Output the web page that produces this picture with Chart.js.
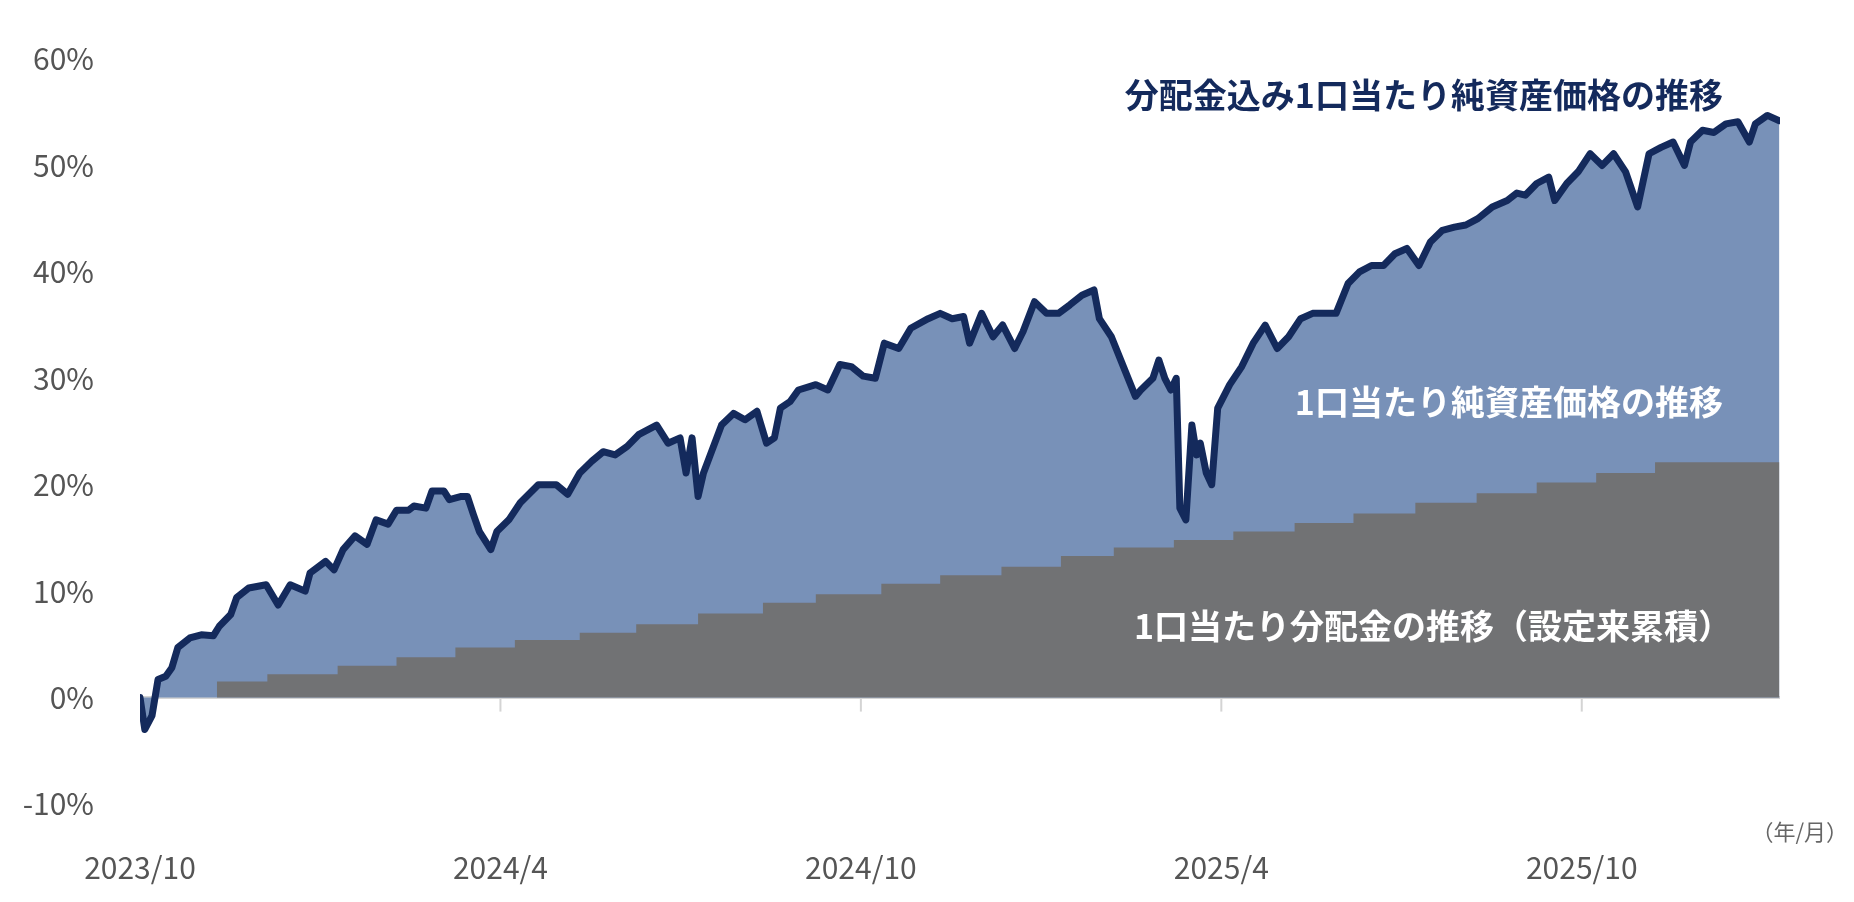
<!DOCTYPE html>
<html><head><meta charset="utf-8">
<script src="https://cdn.jsdelivr.net/npm/chart.js@4"></script>
<style>html,body{margin:0;padding:0;background:#fff}#w{width:1854px;height:902px}</style>
</head><body><div id="w"><canvas id="c"></canvas></div>
<script>
// months since 2023/10 launch
const navMonths=[0,0.08,0.2,0.3,0.43,0.53,0.63,0.83,1.02,1.22,1.32,1.51,1.61,1.81,2.1,2.3,2.5,2.75,2.83,3.09,3.23,3.38,3.58,3.78,3.93,4.13,4.27,4.47,4.56,4.76,4.86,5.06,5.15,5.35,5.45,5.55,5.65,5.84,5.94,6.14,6.33,6.63,6.93,7.12,7.32,7.52,7.71,7.91,8.11,8.3,8.6,8.79,8.99,9.09,9.19,9.29,9.38,9.68,9.88,10.07,10.27,10.43,10.56,10.66,10.82,10.96,11.25,11.45,11.65,11.84,12.04,12.24,12.39,12.63,12.83,13.12,13.32,13.52,13.71,13.81,14.01,14.2,14.36,14.56,14.7,14.89,15.09,15.29,15.48,15.68,15.88,15.97,16.17,16.37,16.57,16.66,16.86,16.96,17.06,17.16,17.25,17.31,17.41,17.51,17.59,17.65,17.75,17.84,17.94,18.14,18.34,18.53,18.73,18.93,19.12,19.32,19.52,19.71,19.91,20.11,20.3,20.5,20.7,20.89,21.09,21.29,21.48,21.68,21.88,22.07,22.27,22.51,22.76,22.92,23.06,23.25,23.45,23.55,23.75,23.94,24.14,24.34,24.53,24.73,24.93,25.12,25.32,25.52,25.71,25.81,26.01,26.2,26.4,26.6,26.79,26.89,27.09,27.29];
const navWithDist=[0,-3.0,-1.7,1.7,2.0,2.8,4.7,5.6,5.9,5.8,6.7,7.8,9.4,10.3,10.6,8.7,10.6,10.0,11.7,12.8,12.0,13.9,15.2,14.4,16.7,16.3,17.6,17.6,18.0,17.8,19.4,19.4,18.6,18.9,18.9,17.2,15.6,13.9,15.6,16.7,18.3,20.0,20.0,19.1,21.1,22.2,23.1,22.8,23.6,24.7,25.6,23.9,24.4,21.1,24.4,18.9,21.1,25.6,26.7,26.1,26.9,23.9,24.4,27.2,27.8,28.9,29.4,28.9,31.3,31.1,30.2,30.0,33.3,32.8,34.7,35.6,36.1,35.6,35.8,33.3,36.1,33.9,35.0,32.8,34.4,37.2,36.1,36.1,36.9,37.8,38.3,35.6,33.9,31.1,28.3,28.9,30.0,31.7,30.0,28.9,30.0,17.8,16.7,25.6,22.8,23.9,21.1,20.0,27.2,29.4,31.1,33.3,35.0,32.8,33.9,35.6,36.1,36.1,36.1,38.9,40.0,40.6,40.6,41.7,42.2,40.6,42.8,43.9,44.2,44.4,45.0,46.1,46.7,47.4,47.2,48.3,48.9,46.7,48.3,49.4,51.1,50.0,51.1,49.4,46.1,51.1,51.7,52.2,50.0,52.2,53.3,53.1,53.9,54.1,52.2,53.9,54.7,54.2];
const distMonths=[1.28,2.12,3.29,4.27,5.25,6.24,7.32,8.26,9.29,10.37,11.25,12.34,13.32,14.34,15.33,16.21,17.21,18.2,19.22,20.2,21.23,22.25,23.25,24.24,25.22,26.26,27.29];
const distCum=[0.8,1.5,2.2,3.0,3.8,4.7,5.4,6.1,6.9,7.9,8.9,9.7,10.7,11.5,12.3,13.3,14.1,14.8,15.6,16.4,17.3,18.3,19.2,20.2,21.1,22.1,22.1];
const tickMonths=[0,6,12,18,24];
const tickLabels=['2023/10','2024/4','2024/10','2025/4','2025/10'];
const yTicks=[-10,0,10,20,30,40,50,60];
const labelNavDist='分配金込み1口当たり純資産価格の推移';
const labelNav='1口当たり純資産価格の推移';
const labelDist='1口当たり分配金の推移（設定来累積）';
const unitLabel='（年/月）';

const nav=navMonths.map((m,i)=>({x:m,y:navWithDist[i]}));
const dist=distMonths.map((m,i)=>({x:m,y:distCum[i]}));
const F='"Noto Sans CJK JP","Noto Sans",sans-serif';

const deco={id:'deco',
 beforeDatasetsDraw(c){const {ctx,scales:{x,y},chartArea:a}=c;const y0=y.getPixelForValue(0);
  ctx.save();ctx.strokeStyle='#d4d4d4';ctx.lineWidth=3;ctx.beginPath();ctx.moveTo(a.left,y0);ctx.lineTo(a.right,y0);ctx.stroke();
  ctx.lineWidth=2;tickMonths.slice(1).forEach(m=>{const px=x.getPixelForValue(m);ctx.beginPath();ctx.moveTo(px,y0);ctx.lineTo(px,y0+14);ctx.stroke();});
  ctx.restore();},
 afterDatasetsDraw(c){const {ctx,scales:{x,y}}=c;ctx.save();ctx.textBaseline='middle';ctx.textAlign='right';
  ctx.font='bold 34px '+F;ctx.fillStyle='#142a5c';ctx.fillText(labelNavDist,x.getPixelForValue(26.35),y.getPixelForValue(56.6));
  ctx.fillStyle='#ffffff';ctx.fillText(labelNav,x.getPixelForValue(26.35),y.getPixelForValue(27.8));
  ctx.fillText(labelDist,x.getPixelForValue(26.5),y.getPixelForValue(6.7));
  ctx.font='22px '+F;ctx.fillStyle='#666';ctx.textAlign='right';ctx.fillText(unitLabel,c.width-6,y.getPixelForValue(-12.6));
  ctx.restore();}};

new Chart(document.getElementById('c'),{
 type:'line',
 data:{datasets:[
  {data:nav,borderWidth:0,pointRadius:0,fill:'origin',backgroundColor:'#7891b8',order:3},
  {data:dist,borderWidth:0,pointRadius:0,stepped:'after',fill:'origin',backgroundColor:'#717274',order:2},
  {data:nav,borderColor:'#142a5c',borderWidth:7,pointRadius:0,fill:false,order:1,borderJoinStyle:'round',borderCapStyle:'round'}
 ]},
 options:{responsive:true,maintainAspectRatio:false,animation:false,
  layout:{padding:{top:59,right:74,bottom:0,left:0}},
  plugins:{legend:{display:false},tooltip:{enabled:false}},
  scales:{
   x:{type:'linear',min:0,max:27.3,grid:{display:false},border:{display:false},
    afterBuildTicks(s){s.ticks=tickMonths.map(v=>({value:v}));},
    afterFit(s){s.height=98;},
    ticks:{padding:38,autoSkip:false,maxRotation:0,color:'#555',font:{family:F,size:30},callback:(v)=>tickLabels[tickMonths.indexOf(v)]}},
   y:{min:-10,max:60,grid:{display:false},border:{display:false},
    afterBuildTicks(s){s.ticks=yTicks.map(v=>({value:v}));},
    afterFit(s){s.width=140;},
    ticks:{padding:38,color:'#555',font:{family:F,size:30},callback:v=>v+'%'}}
  }},
 plugins:[deco]});
</script></body></html>
